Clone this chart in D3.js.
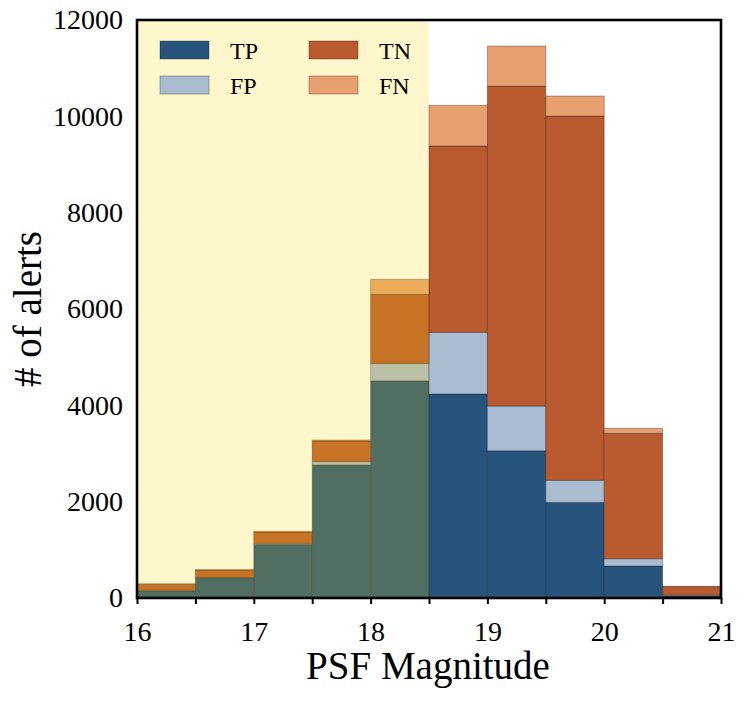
<!DOCTYPE html>
<html>
<head>
<meta charset="utf-8">
<script src="https://cdn.jsdelivr.net/npm/d3@7"></script>
<style>
  html, body { margin: 0; padding: 0; background: #fff; }
  svg { display: block; }
  text { font-family: "Liberation Serif", "Times New Roman", "DejaVu Serif", serif; fill: #000; }
</style>
</head>
<body>
<svg id="chart" width="748" height="702"></svg>
<script>
// ---- data ----
const binStarts = [16, 16.5, 17, 17.5, 18, 18.5, 19, 19.5, 20, 20.5];
const binWidth = 0.5;
const seriesNames = ["TP", "FP", "TN", "FN"];
const tpValues = [150, 420, 1115, 2760, 4510, 4235, 3058, 1986, 664, 45];
const fpValues = [10, 5, 20, 70, 360, 1280, 928, 457, 152, 15];
const tnValues = [125, 155, 235, 430, 1435, 3870, 6643, 7563, 2603, 175];
const fnValues = [10, 10, 15, 20, 310, 845, 831, 415, 104, 10];
const seriesColors = ["#26547c", "#a9bcd1", "#b95a2f", "#e8a071"];
const xTickValues = [16, 16.5, 17, 17.5, 18, 18.5, 19, 19.5, 20, 20.5, 21];
const yTickValues = [0, 2000, 4000, 6000, 8000, 10000, 12000];
const highlightRange = [16, 18.5];

// ---- layout ----
const svg = d3.select("#chart");
const mLeft = 137, mRight = 721, mTop = 20, mBottom = 598;

const x = d3.scaleLinear().domain([16, 21]).range([mLeft, mRight]);
const y = d3.scaleLinear().domain([0, 12000]).range([mBottom, mTop]);

const rows = binStarts.map((b, i) => ({
  x0: b, TP: tpValues[i], FP: fpValues[i], TN: tnValues[i], FN: fnValues[i]
}));
const stacked = d3.stack().keys(seriesNames)(rows);
const color = d3.scaleOrdinal().domain(seriesNames).range(seriesColors);

// bars
const gBars = svg.append("g");
stacked.forEach(layer => {
  gBars.append("g")
    .selectAll("rect")
    .data(layer)
    .join("rect")
    .attr("x", d => x(d.data.x0))
    .attr("width", d => x(d.data.x0 + binWidth) - x(d.data.x0))
    .attr("y", d => y(d[1]))
    .attr("height", d => Math.max(0, y(d[0]) - y(d[1])))
    .attr("fill", color(layer.key))
    .attr("stroke", "rgba(0,0,0,0.3)")
    .attr("stroke-width", 1);
});

// highlight overlay
svg.append("rect")
  .attr("x", x(highlightRange[0]))
  .attr("width", x(highlightRange[1]) - x(highlightRange[0]))
  .attr("y", y(12000))
  .attr("height", y(0) - y(12000))
  .attr("fill", "rgb(253,213,0)")
  .attr("fill-opacity", 0.2);

// x axis
const xAxis = d3.axisBottom(x)
  .tickValues(xTickValues)
  .tickSize(6)
  .tickPadding(17)
  .tickFormat(d => Number.isInteger(d) ? d3.format("d")(d) : "");
const gx = svg.append("g").attr("transform", `translate(0,${mBottom})`).call(xAxis);
gx.select(".domain").remove();
gx.selectAll(".tick line").attr("stroke", "#000").attr("stroke-width", 2);
gx.selectAll(".tick text").attr("font-size", 28).attr("dy", "0.71em")
  .style("font-family", '"Liberation Serif", "Times New Roman", serif');

// y axis
const yAxis = d3.axisLeft(y).tickValues(yTickValues).tickSize(0).tickPadding(14)
  .tickFormat(d3.format("d"));
const gy = svg.append("g").attr("transform", `translate(${mLeft},0)`).call(yAxis);
gy.select(".domain").remove();
gy.selectAll(".tick text").attr("font-size", 28)
  .style("font-family", '"Liberation Serif", "Times New Roman", serif');

// frame
svg.append("rect")
  .attr("x", mLeft).attr("y", mTop)
  .attr("width", mRight - mLeft).attr("height", mBottom - mTop)
  .attr("fill", "none").attr("stroke", "#000").attr("stroke-width", 2.6);

// axis labels
svg.append("text")
  .attr("x", 428).attr("y", 679)
  .attr("text-anchor", "middle").attr("font-size", 39)
  .text("PSF Magnitude");
svg.append("text")
  .attr("transform", `translate(41,${(mTop + mBottom) / 2}) rotate(-90)`)
  .attr("text-anchor", "middle").attr("font-size", 39)
  .text("# of alerts");

// legend
const legendItems = [
  { key: "TP", col: 0, row: 0 },
  { key: "TN", col: 1, row: 0 },
  { key: "FP", col: 0, row: 1 },
  { key: "FN", col: 1, row: 1 }
];
const lg = svg.append("g");
legendItems.forEach(it => {
  const lx = 160 + it.col * 149;
  const ly = 41 + it.row * 35;
  lg.append("rect")
    .attr("x", lx).attr("y", ly).attr("width", 49).attr("height", 18)
    .attr("fill", color(it.key))
    .attr("stroke", "rgba(0,0,0,0.3)").attr("stroke-width", 1);
  lg.append("text")
    .attr("x", lx + 70).attr("y", ly + 18)
    .attr("font-size", 24)
    .text(it.key);
});
</script>
</body>
</html>
